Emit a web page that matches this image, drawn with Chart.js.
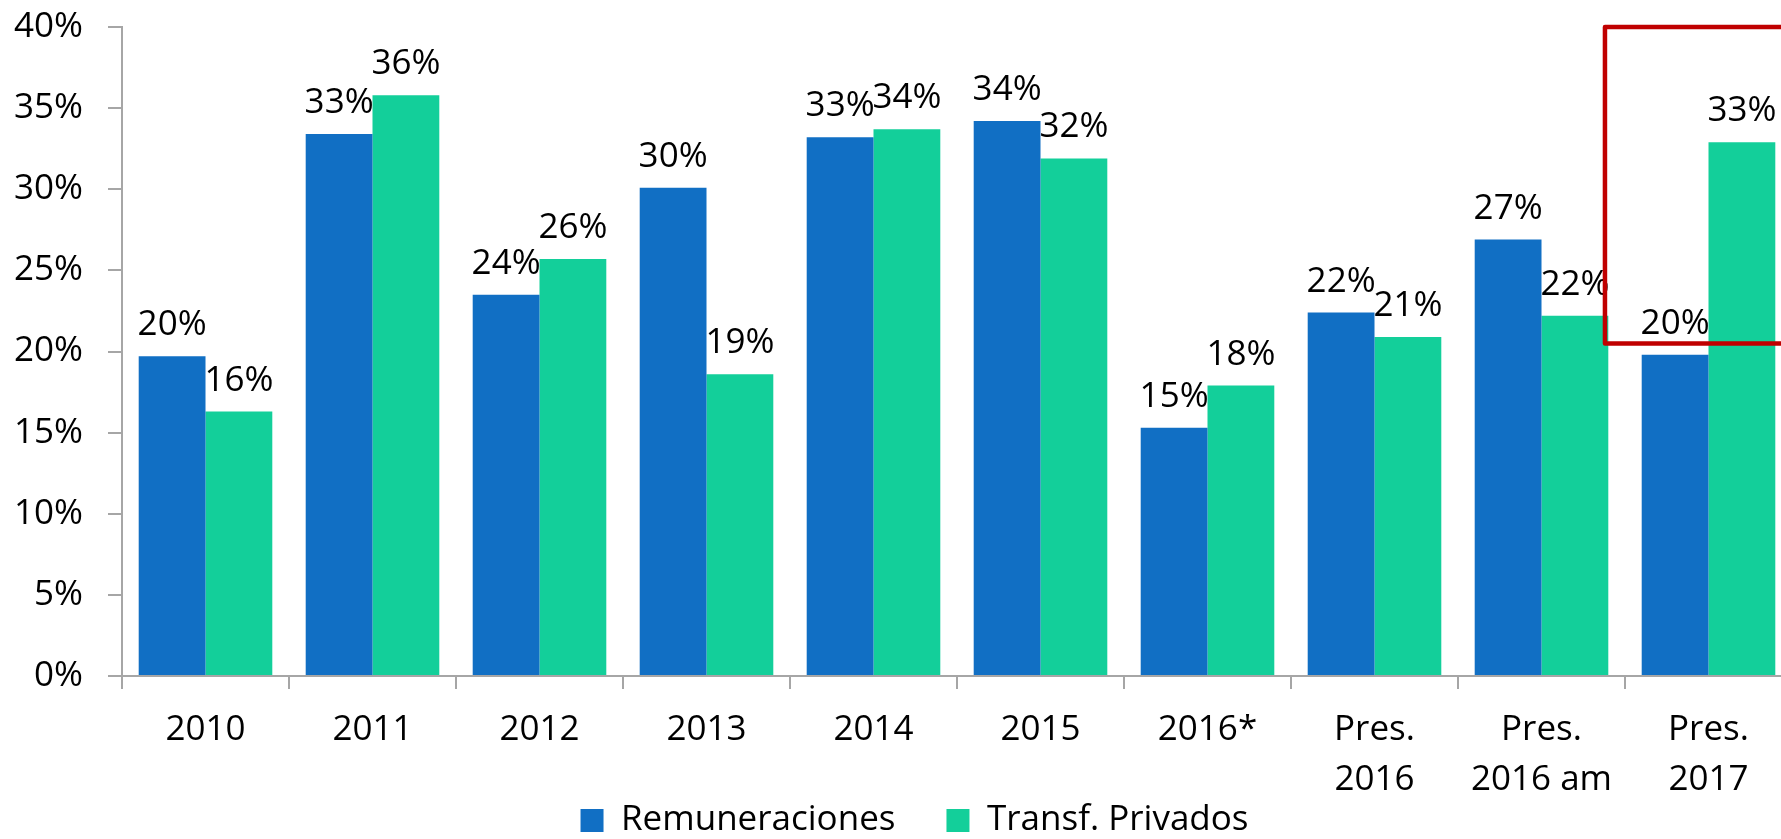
<!DOCTYPE html>
<html>
<head>
<meta charset="utf-8">
<script src="https://cdn.jsdelivr.net/npm/chart.js@4/dist/chart.umd.min.js"></script>
<style>
  html, body { margin: 0; padding: 0; overflow: hidden; background: #fff; }
</style>
</head>
<body>
<canvas id="barChart" width="1800" height="902"></canvas>
<script>
var categories     = ['2010', '2011', '2012', '2013', '2014', '2015', '2016*', ['Pres.', '2016'], ['Pres.', '2016 am'], ['Pres.', '2017']];
var remuneraciones = [19.7, 33.4, 23.5, 30.1, 33.2, 34.2, 15.3, 22.4, 26.9, 19.8];
var transfPrivados = [16.3, 35.8, 25.7, 18.6, 33.7, 31.9, 17.9, 20.9, 22.2, 32.9];
var yTicks         = [0, 5, 10, 15, 20, 25, 30, 35, 40];

var fontFamily = "'Open Sans', 'Noto Sans', sans-serif";

// value labels above each bar
var barLabels = {
    id: 'barLabels',
    afterDatasetsDraw: function (chart) {
        var ctx = chart.ctx;
        ctx.save();
        ctx.font = '35px ' + fontFamily;
        ctx.fillStyle = '#000';
        ctx.textAlign = 'center';
        ctx.textBaseline = 'alphabetic';
        chart.data.datasets.forEach(function (ds, i) {
            chart.getDatasetMeta(i).data.forEach(function (bar, j) {
                ctx.fillText(Math.round(ds.data[j]) + '%', bar.x, bar.y - 21);
            });
        });
        ctx.restore();
    }
};

// red highlight box around the last category
var highlightBox = {
    id: 'highlightBox',
    afterDraw: function (chart) {
        var x = chart.scales.x, y = chart.scales.y;
        var last = categories.length - 1;
        var catW = x.getPixelForValue(1) - x.getPixelForValue(0);
        var left = x.getPixelForValue(last) - 0.62 * catW;
        var top = y.getPixelForValue(40);
        var bottom = y.getPixelForValue(20.5);
        var ctx = chart.ctx;
        ctx.save();
        ctx.strokeStyle = '#c00000';
        ctx.lineWidth = 4.5;
        ctx.lineJoin = 'round';
        ctx.strokeRect(left, top, chart.width + 20 - left, bottom - top);
        ctx.restore();
    }
};

// put the legend row just under the axis labels, centred like the original
var legendPlace = {
    id: 'legendPlace',
    afterLayout: function (chart) {
        var lg = chart.legend;
        var h = lg.bottom - lg.top;
        lg.left = 37;
        lg.top = 752;
        lg.bottom = lg.top + h;
    }
};

var ctxB = document.getElementById('barChart').getContext('2d');
var myChart = new Chart(ctxB, {
    type: 'bar',
    data: {
        labels: categories,
        datasets: [{
            label: 'Remuneraciones',
            data: remuneraciones,
            backgroundColor: '#116fc4',
            borderWidth: 0,
            barPercentage: 1.0,
            categoryPercentage: 0.8
        }, {
            label: 'Transf. Privados',
            data: transfPrivados,
            backgroundColor: '#13cf9a',
            borderWidth: 0,
            barPercentage: 1.0,
            categoryPercentage: 0.8
        }]
    },
    options: {
        responsive: false,
        animation: false,
        layout: { padding: { left: 0, right: 8, top: 27, bottom: 0 } },
        plugins: {
            tooltip: { enabled: false },
            legend: {
                display: true,
                position: 'bottom',
                labels: {
                    boxWidth: 23,
                    boxHeight: 23,
                    padding: 51,
                    color: '#000',
                    font: { family: fontFamily, size: 35 }
                }
            }
        },
        scales: {
            x: {
                grid: { display: true, drawOnChartArea: false, offset: true, tickLength: 13, color: '#a6a6a6', lineWidth: 2 },
                border: { display: true, color: '#a6a6a6', width: 2 },
                ticks: { color: '#000', padding: 16, maxRotation: 0, autoSkip: false, font: { family: fontFamily, size: 35, lineHeight: 1.43 } },
                afterFit: function (scale) {
                    scale.height = 130;
                    scale.paddingLeft = 0;
                    scale.paddingRight = 0;
                }
            },
            y: {
                min: 0,
                max: 40,
                afterBuildTicks: function (scale) {
                    scale.ticks = yTicks.map(function (v) { return { value: v }; });
                },
                grid: { display: true, drawOnChartArea: false, tickLength: 14, color: '#a6a6a6', lineWidth: 2 },
                border: { display: true, color: '#a6a6a6', width: 2 },
                ticks: {
                    color: '#000',
                    padding: 25,
                    font: { family: fontFamily, size: 35 },
                    callback: function (v) { return v + '%'; }
                },
                afterFit: function (scale) {
                    scale.width = 122;
                    scale.paddingTop = 0;
                    scale.paddingBottom = 0;
                }
            }
        }
    },
    plugins: [barLabels, highlightBox, legendPlace]
});
</script>
</body>
</html>
